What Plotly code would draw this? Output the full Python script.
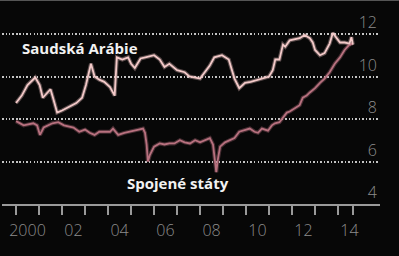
import plotly.graph_objects as go

# ---- data (million barrels per day) ----
saudi_dates = ["2000-01-01", "2000-04-01", "2000-07-01", "2000-11-01", "2001-01-10", "2001-03-01",
               "2001-05-01", "2001-07-01", "2001-08-10", "2001-10-15", "2002-01-01", "2002-03-01",
               "2002-06-01", "2002-08-15", "2002-11-15", "2003-01-15", "2003-04-05", "2003-06-01",
               "2003-08-15", "2003-11-01", "2004-02-01", "2004-04-15", "2004-05-20", "2004-08-15",
               "2004-11-15", "2005-01-01", "2005-03-01", "2005-06-01", "2005-08-15", "2006-01-01",
               "2006-04-01", "2006-06-15", "2006-09-01", "2007-01-01", "2007-05-01", "2007-07-15",
               "2008-01-01", "2008-03-15", "2008-06-01", "2008-08-15", "2008-12-15", "2009-04-01",
               "2009-05-20", "2009-07-01", "2009-09-15", "2009-12-15", "2010-03-15", "2010-08-15",
               "2011-01-01", "2011-03-01", "2011-04-10", "2011-06-15", "2011-08-10", "2011-09-15",
               "2011-11-25", "2012-05-01", "2012-07-20", "2012-10-10", "2012-11-25", "2013-01-01",
               "2013-03-20", "2013-06-01", "2013-08-20", "2013-10-10", "2013-12-15", "2014-02-01",
               "2014-04-15", "2014-07-01", "2014-08-01", "2014-08-25"]
saudi_values = [8.75, 9.1, 9.6, 9.95, 9.6, 9.0,
                9.2, 9.4, 9.0, 8.3, 8.4, 8.5,
                8.65, 8.75, 9.0, 9.6, 10.6, 10.0,
                9.85, 9.75, 9.5, 9.1, 10.9, 10.8,
                10.9, 10.6, 10.4, 10.85, 10.9, 11.0,
                10.8, 10.45, 10.6, 10.3, 10.2, 10.0,
                9.9, 10.2, 10.5, 10.9, 11.0, 10.8,
                10.3, 9.9, 9.45, 9.7, 9.75, 9.9,
                10.0, 10.3, 10.8, 10.8, 11.5, 11.4,
                11.7, 11.8, 11.95, 11.8, 11.6, 11.25,
                11.0, 11.1, 11.55, 12.05, 11.8, 11.6,
                11.6, 11.55, 11.85, 11.5]

us_dates = ["2000-01-01", "2000-05-01", "2000-10-01", "2000-12-01", "2001-01-15", "2001-03-15",
            "2001-08-01", "2001-11-01", "2002-02-01", "2002-07-01", "2002-10-01", "2003-01-01",
            "2003-03-15", "2003-06-01", "2003-08-15", "2004-02-01", "2004-03-20", "2004-06-10",
            "2004-09-15", "2004-12-15", "2005-05-01", "2005-07-10", "2005-08-10", "2005-09-05",
            "2005-09-25", "2005-10-25", "2006-01-01", "2006-04-01", "2006-06-15", "2006-09-01",
            "2006-11-20", "2007-02-15", "2007-05-01", "2007-07-25", "2007-10-15", "2008-01-01",
            "2008-03-15", "2008-06-05", "2008-07-25", "2008-08-20", "2008-09-15", "2008-10-10",
            "2008-11-15", "2009-02-01", "2009-04-15", "2009-07-01", "2009-09-15", "2009-12-15",
            "2010-03-01", "2010-05-15", "2010-07-10", "2010-09-10", "2010-12-15", "2011-02-15",
            "2011-04-05", "2011-06-15", "2011-08-10", "2011-10-10", "2011-11-25", "2012-02-15",
            "2012-05-01", "2012-06-20", "2012-08-20", "2012-10-10", "2013-01-01", "2013-03-20",
            "2013-06-01", "2013-08-20", "2013-11-10", "2014-02-01", "2014-04-15", "2014-07-01",
            "2014-08-15"]
us_values = [7.9, 7.7, 7.8, 7.7, 7.25, 7.6,
             7.8, 7.85, 7.7, 7.6, 7.4, 7.5,
             7.35, 7.25, 7.4, 7.4, 7.55, 7.25,
             7.35, 7.4, 7.5, 7.55, 7.35, 6.8,
             6.0, 6.3, 6.7, 6.85, 6.8, 6.85,
             6.85, 7.0, 6.9, 6.85, 7.0, 6.9,
             7.0, 7.1, 6.8, 6.2, 5.5, 6.1,
             6.7, 6.9, 7.0, 7.1, 7.4, 7.5,
             7.55, 7.4, 7.35, 7.55, 7.45, 7.7,
             7.8, 7.85, 8.05, 8.3, 8.35, 8.5,
             8.65, 9.0, 9.1, 9.25, 9.45, 9.7,
             9.9, 10.2, 10.6, 10.9, 11.25, 11.5,
             11.55]

y_ticks = [4, 6, 8, 10, 12]
year_ticks = [f"{y}-01-01" for y in range(2000, 2015)] + ["2014-08-25"]
label_dates = [f"{y}-07-01" for y in range(2000, 2015, 2)]
label_text = ["2000", "02", "04", "06", "08", "10", "12", "14"]

saudi_color = "#f3c9c8"
us_color = "#b8717f"
axis_color = "#9a9a9a"
x_range = ["1999-05-23", "2015-10-29"]

fig = go.Figure()
# soft glow underneath
fig.add_trace(go.Scatter(x=us_dates, y=us_values, mode="lines",
                         line=dict(color="rgba(184,113,127,0.35)", width=4), hoverinfo="skip"))
fig.add_trace(go.Scatter(x=saudi_dates, y=saudi_values, mode="lines",
                         line=dict(color="rgba(243,201,200,0.35)", width=4), hoverinfo="skip"))
fig.add_trace(go.Scatter(x=us_dates, y=us_values, mode="lines",
                         line=dict(color=us_color, width=1.8), name="Spojené státy"))
fig.add_trace(go.Scatter(x=saudi_dates, y=saudi_values, mode="lines",
                         line=dict(color=saudi_color, width=1.8), name="Saudská Arábie"))
# invisible trace to activate label axis
fig.add_trace(go.Scatter(x=label_dates, y=[None] * len(label_dates), xaxis="x2",
                         mode="lines", showlegend=False, hoverinfo="skip"))

tick_font = dict(family="Open Sans", size=16, color="#8c8c8c", weight=300)

fig.update_layout(
    width=399, height=256,
    margin=dict(l=2, r=19, t=0, b=52),
    paper_bgcolor="#070707", plot_bgcolor="#070707",
    showlegend=False,
    xaxis=dict(type="date", range=x_range, tickmode="array", tickvals=year_ticks,
               showticklabels=False, ticks="outside", ticklen=9, tickwidth=2,
               tickcolor=axis_color, showline=True, linecolor=axis_color, linewidth=2,
               showgrid=False, zeroline=False),
    xaxis2=dict(type="date", range=x_range, overlaying="x", anchor="y", side="bottom",
                tickmode="array", tickvals=label_dates, ticktext=label_text,
                ticks="outside", ticklen=12, tickcolor="rgba(0,0,0,0)",
                showline=False, showgrid=False, zeroline=False, tickfont=tick_font),
    yaxis=dict(range=[4, 13.6], side="right", tickmode="array", tickvals=y_ticks,
               ticklabelposition="inside top", tickfont=tick_font, ticks="",
               showgrid=True, gridcolor="#c4c4c4", gridwidth=1.5, griddash="1.5px,2px",
               zeroline=False, showline=False),
    annotations=[
        dict(text="Saudská Arábie", x="2000-03-05", y=11.34, xref="x", yref="y",
             xanchor="left", yanchor="middle", showarrow=False,
             font=dict(family="Open Sans", size=15, color="#f2f2f2", weight=700)),
        dict(text="Spojené státy", x="2004-09-27", y=4.99, xref="x", yref="y",
             xanchor="left", yanchor="middle", showarrow=False,
             font=dict(family="Open Sans", size=15, color="#f2f2f2", weight=700)),
    ],
    shapes=[dict(type="line", xref="paper", yref="paper", x0=-0.01, x1=1.05, y0=1, y1=1,
                 line=dict(color="#555555", width=2))],
)

fig.write_html("out.html")
